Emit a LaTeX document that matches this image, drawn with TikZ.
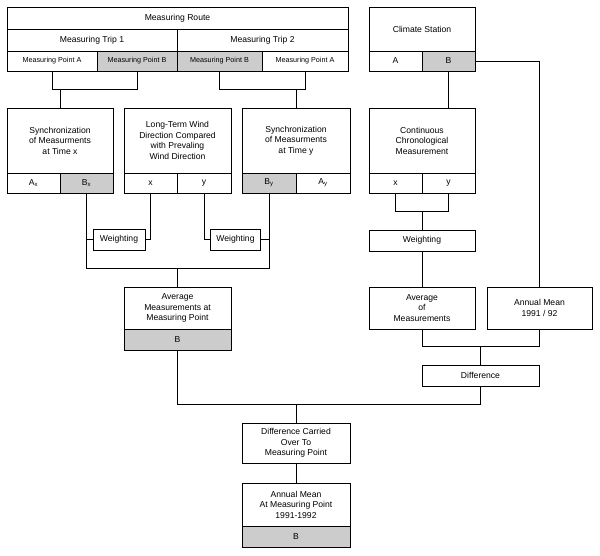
\documentclass[tikz,border=0pt]{standalone}
\usepackage{fontspec}
\setmainfont{Liberation Sans}
\definecolor{cellgray}{HTML}{CCCCCC}
\newcommand\mybox[7][white]{%
  \node[box,fill=#1,minimum width={(#5-#3)*1pt},minimum height={(#6-#4)*1pt}] (#2) at ({(#3+#5)/2},{(#4+#6)/2}) {#7};}
\begin{document}
\begin{tikzpicture}[x=1pt,y=-1pt,line width=0.8pt,
  box/.style={draw=black,inner sep=0pt,align=center,font=\fontsize{8.6}{10.5}\selectfont},
  sm/.style={font=\fontsize{7.2}{9}\selectfont}]
\useasboundingbox (0,0) rectangle (600,555);
% measuring route
\mybox{route}{7}{7}{348}{29}{Measuring Route}
\mybox{trip1}{7}{29}{177}{51}{Measuring Trip 1}
\mybox{trip2}{177}{29}{348}{51}{Measuring Trip 2}
\tikzset{box/.append style={}}
\node[box,sm,minimum width=90pt,minimum height=20pt] (mpA1) at (52,61) {Measuring Point A};
\node[box,sm,fill=cellgray,minimum width=80pt,minimum height=20pt] (mpB1) at (137,61) {Measuring Point B};
\node[box,sm,fill=cellgray,minimum width=85pt,minimum height=20pt] (mpB2) at (219.5,61) {Measuring Point B};
\node[box,sm,minimum width=86pt,minimum height=20pt] (mpA2) at (305,61) {Measuring Point A};
% climate station
\mybox{cs}{369}{7}{475}{51}{Climate Station}
\mybox{csA}{369}{51}{422}{71}{A}
\mybox[cellgray]{csB}{422}{51}{475}{71}{B}
% sync x
\mybox{syncx}{7}{108}{113}{173}{Synchronization\\of Measurments\\at Time x}
\mybox{Ax}{7}{173}{60}{193}{A\textsubscript{x}}
\mybox[cellgray]{Bx}{60}{173}{113}{193}{B\textsubscript{x}}
% long-term
\mybox{lt}{124}{108}{231}{173}{Long-Term Wind\\Direction Compared\\with Prevaling\\Wind Direction}
\mybox{ltx}{124}{173}{177}{193}{x}
\mybox{lty}{177}{173}{231}{193}{y}
% sync y
\mybox{syncy}{242}{108}{350}{173}{Synchronization\\of Measurments\\at Time y}
\mybox[cellgray]{By}{242}{173}{296}{193}{B\textsubscript{y}}
\mybox{Ay}{296}{173}{350}{193}{A\textsubscript{y}}
% continuous
\mybox{cont}{369}{108}{475}{173}{Continuous\\Chronological\\Measurement}
\mybox{cx}{369}{173}{422}{193}{x}
\mybox{cy}{422}{173}{475}{193}{y}
% weightings
\mybox{w1}{93}{229}{145}{250}{Weighting}
\mybox{w2}{210.5}{229}{260.5}{250}{Weighting}
\mybox{wc}{369}{230}{475}{251}{Weighting}
% averages
\mybox{avg}{124}{287}{231}{329}{Average\\Measurements at\\Measuring Point}
\mybox[cellgray]{avgB}{124}{329}{231}{350}{B}
\mybox{avgm}{369}{287}{475}{329}{Average\\of\\Measurements}
\mybox{annual}{487}{287}{592}{329}{Annual Mean\\1991 / 92}
\mybox{diff}{422}{365}{539}{386}{Difference}
\mybox{dc}{242}{423}{350}{463}{Difference Carried\\Over To\\Measuring Point}
\mybox{am}{242}{483}{350}{526}{Annual Mean\\At Measuring Point\\1991-1992}
\mybox[cellgray]{amB}{242}{526}{350}{547}{B}
% connectors
\coordinate (j1) at (177.5,268);
\coordinate (j2) at (296,404);
\draw (mpA1.south) -- ++(0,18) -| (mpB1.south);
\draw (syncx.north) -- ++(0,-19);
\draw (mpB2.south) -- ++(0,18) -| (mpA2.south);
\draw (syncy.north) -- ++(0,-19);
\draw (csB.south) -- (csB.south |- cont.north);
\draw (csB.east) -| (annual.north);
\draw (cx.south) -- ++(0,18) -| (cy.south);
\draw (wc.north) -- ++(0,-19);
\draw (wc.south) -- (avgm.north);
\draw (Bx.south) -- (Bx.south |- j1) -- (By.south |- j1) -- (By.south);
\draw (j1) -- (avg.north);
\draw (w1.west) -- (w1.west -| Bx.south);
\draw (ltx.south) |- (w1.east);
\draw (lty.south) |- (w2.west);
\draw (w2.east) -- (w2.east -| By.south);
\draw (avgm.south) -- ++(0,17) -| (annual.south);
\draw (diff.north) -- ++(0,-19);
\draw (avgB.south) |- (j2);
\draw (diff.south) |- (j2);
\draw (j2) -- (dc.north);
\draw (dc.south) -- (am.north);
\end{tikzpicture}
\end{document}
